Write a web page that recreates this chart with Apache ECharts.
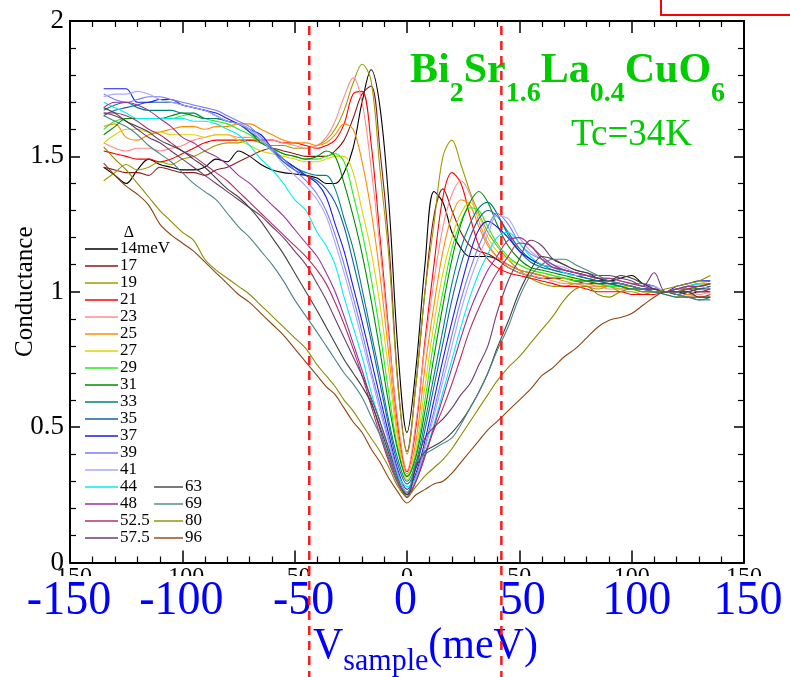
<!DOCTYPE html>
<html><head><meta charset="utf-8">
<script src="https://cdn.jsdelivr.net/npm/echarts/dist/echarts.min.js"></script>
<style>html,body{margin:0;padding:0;background:#fff}#c{width:790px;height:677px}</style>
</head><body><div id="c"></div>
<script>
const FONT = "'Liberation Serif','Times New Roman',serif";
// bias voltage grid (meV)
const vGrid = [-135,-130,-125,-120,-115,-110,-105,-100,-95,-90,-85,-80,-75,-70,-65,-60,-55,-50,-45,-40,
  -36,-32,-28,-24,-20,-16,-12,-8,-4,0,4,8,12,16,20,24,28,32,36,
  40,45,50,55,60,65,70,75,80,85,90,95,100,105,110,115,120,125,130,135];
const gapNames = ['14meV','17','19','21','23','25','27','29','31','33','35','37','39','41','44','48','52.5','57.5','63','69','80','96'];
const g14 = [1.46,1.43,1.40,1.45,1.49,1.47,1.46,1.45,1.45,1.46,1.49,1.48,1.52,1.50,1.47,1.45,1.44,1.435,1.43,1.42, 1.40,1.40,1.44,1.53,1.70,1.82,1.68,1.32,0.78,0.48,0.72,1.10,1.37,1.33,1.22,1.16,1.13,1.13,1.13, 1.12,1.09,1.07,1.06,1.05,1.05,1.05,1.04,1.04,1.04,1.04,1.05,1.06,1.03,1.02,1.00,1.00,0.99,1.00,1.00];
const g17 = [1.46,1.45,1.44,1.44,1.43,1.46,1.45,1.44,1.44,1.43,1.45,1.46,1.48,1.50,1.52,1.53,1.52,1.51,1.50,1.50, 1.50,1.52,1.56,1.64,1.73,1.76,1.52,1.17,0.66,0.41,0.66,1.00,1.28,1.38,1.30,1.22,1.17,1.15,1.14, 1.12,1.10,1.08,1.07,1.06,1.05,1.05,1.04,1.03,1.03,1.02,1.02,1.02,1.01,1.01,1.00,1.00,1.01,1.00,1.01];
const g19 = [1.41,1.44,1.47,1.45,1.46,1.48,1.47,1.49,1.50,1.52,1.54,1.55,1.55,1.56,1.55,1.54,1.54,1.53,1.53,1.54, 1.56,1.60,1.67,1.77,1.84,1.78,1.45,1.12,0.65,0.40,0.66,1.00,1.25,1.50,1.56,1.47,1.37,1.29,1.22, 1.17,1.12,1.08,1.05,1.03,1.02,1.02,1.03,1.02,1.01,1.02,1.00,1.00,0.99,1.00,1.00,1.00,1.02,1.03,1.03];
const g21 = [1.52,1.51,1.50,1.49,1.49,1.48,1.49,1.51,1.53,1.55,1.56,1.56,1.56,1.56,1.56,1.56,1.55,1.55,1.54,1.53, 1.54,1.56,1.62,1.73,1.74,1.55,1.20,0.84,0.50,0.335,0.50,0.82,1.10,1.35,1.44,1.40,1.28,1.17,1.12, 1.09,1.07,1.06,1.05,1.04,1.03,1.02,1.02,1.01,1.00,1.00,1.00,0.99,0.99,0.99,1.00,0.99,0.98,0.98,0.99];
const g23 = [1.55,1.53,1.52,1.53,1.53,1.52,1.53,1.54,1.56,1.57,1.58,1.58,1.57,1.57,1.56,1.56,1.55,1.54,1.53,1.54, 1.57,1.63,1.72,1.79,1.70,1.46,1.16,0.82,0.52,0.34,0.52,0.80,1.04,1.24,1.36,1.41,1.36,1.26,1.18, 1.13,1.09,1.07,1.06,1.05,1.04,1.03,1.03,1.02,1.02,1.01,1.01,1.01,1.00,1.00,1.00,1.00,1.00,0.99,1.00];
const g25 = [1.61,1.62,1.57,1.56,1.58,1.59,1.60,1.61,1.61,1.60,1.61,1.61,1.62,1.62,1.60,1.58,1.56,1.55,1.55,1.54, 1.55,1.58,1.62,1.60,1.48,1.30,1.06,0.76,0.47,0.327,0.45,0.72,0.95,1.15,1.28,1.34,1.32,1.24,1.17, 1.13,1.10,1.08,1.07,1.06,1.05,1.04,1.03,1.03,1.02,1.02,1.01,1.01,1.00,1.00,0.99,0.98,0.99,0.98,0.98];
const g27 = [1.55,1.58,1.60,1.60,1.59,1.59,1.58,1.58,1.58,1.57,1.58,1.58,1.56,1.54,1.52,1.51,1.50,1.49,1.48,1.48, 1.49,1.50,1.50,1.44,1.30,1.15,0.95,0.70,0.45,0.305,0.42,0.65,0.88,1.07,1.20,1.29,1.33,1.28,1.20, 1.15,1.12,1.10,1.08,1.07,1.06,1.05,1.05,1.04,1.03,1.03,1.02,1.02,1.01,1.00,1.00,1.01,1.02,1.03,1.04];
const g29 = [1.60,1.63,1.64,1.64,1.64,1.64,1.64,1.65,1.66,1.64,1.63,1.62,1.60,1.58,1.55,1.53,1.51,1.50,1.49,1.49, 1.50,1.51,1.48,1.36,1.22,1.05,0.85,0.62,0.42,0.32,0.40,0.60,0.82,1.00,1.16,1.26,1.31,1.30,1.24, 1.18,1.13,1.10,1.08,1.07,1.06,1.05,1.04,1.04,1.03,1.02,1.02,1.01,1.00,1.00,1.00,1.00,1.01,1.01,1.02];
const g31 = [1.58,1.61,1.64,1.64,1.64,1.64,1.65,1.66,1.65,1.64,1.64,1.63,1.62,1.59,1.55,1.53,1.51,1.50,1.49,1.50, 1.52,1.50,1.40,1.28,1.14,0.97,0.78,0.58,0.41,0.317,0.39,0.56,0.76,0.95,1.12,1.25,1.33,1.37,1.33, 1.25,1.17,1.12,1.09,1.08,1.07,1.06,1.05,1.04,1.03,1.03,1.02,1.01,1.01,1.00,1.00,1.01,1.02,1.01,1.02];
const g33 = [1.67,1.69,1.70,1.68,1.67,1.67,1.67,1.66,1.66,1.64,1.64,1.63,1.62,1.60,1.56,1.52,1.49,1.46,1.44,1.43, 1.43,1.38,1.27,1.16,1.01,0.85,0.69,0.52,0.38,0.30,0.37,0.52,0.69,0.86,1.03,1.16,1.25,1.31,1.33, 1.29,1.21,1.15,1.11,1.09,1.08,1.07,1.06,1.05,1.04,1.03,1.02,1.01,1.01,1.00,0.99,0.98,0.98,0.97,0.98];
const g35 = [1.65,1.67,1.68,1.69,1.70,1.70,1.70,1.69,1.68,1.67,1.65,1.63,1.62,1.59,1.56,1.52,1.48,1.45,1.43,1.41, 1.38,1.33,1.24,1.11,0.97,0.82,0.66,0.50,0.36,0.29,0.35,0.49,0.65,0.81,0.97,1.10,1.20,1.27,1.30, 1.28,1.22,1.16,1.12,1.10,1.08,1.07,1.06,1.05,1.04,1.03,1.03,1.02,1.01,1.00,1.00,0.99,1.00,1.01,1.02];
const g37 = [1.75,1.75,1.75,1.70,1.70,1.71,1.71,1.69,1.68,1.67,1.66,1.64,1.62,1.60,1.58,1.53,1.49,1.46,1.43,1.40, 1.35,1.25,1.15,1.02,0.89,0.75,0.61,0.47,0.34,0.27,0.33,0.45,0.60,0.75,0.89,1.02,1.14,1.23,1.26, 1.24,1.20,1.15,1.12,1.10,1.09,1.08,1.07,1.06,1.05,1.04,1.03,1.02,1.01,1.01,1.00,1.02,1.03,1.04,1.04];
const g39 = [1.73,1.71,1.70,1.71,1.72,1.72,1.71,1.70,1.69,1.68,1.67,1.65,1.63,1.61,1.57,1.53,1.49,1.45,1.41,1.36, 1.30,1.21,1.10,0.98,0.85,0.71,0.58,0.45,0.33,0.26,0.32,0.43,0.56,0.70,0.84,0.97,1.08,1.17,1.24, 1.29,1.25,1.18,1.14,1.12,1.10,1.08,1.07,1.06,1.05,1.05,1.04,1.03,1.03,1.02,1.00,1.01,1.02,1.03,1.03];
const g41 = [1.72,1.73,1.73,1.74,1.73,1.71,1.70,1.69,1.68,1.67,1.65,1.63,1.62,1.60,1.56,1.52,1.47,1.43,1.39,1.34, 1.28,1.18,1.07,0.95,0.82,0.69,0.56,0.44,0.32,0.25,0.31,0.42,0.54,0.67,0.80,0.93,1.04,1.13,1.21, 1.28,1.27,1.20,1.15,1.12,1.10,1.09,1.07,1.06,1.05,1.05,1.04,1.03,1.02,1.02,1.00,1.00,1.01,1.02,1.01];
const g44 = [1.70,1.68,1.66,1.64,1.64,1.64,1.64,1.64,1.63,1.63,1.62,1.60,1.58,1.54,1.49,1.45,1.40,1.34,1.30,1.22, 1.17,1.10,0.98,0.87,0.76,0.63,0.52,0.41,0.32,0.28,0.31,0.40,0.51,0.63,0.75,0.87,0.98,1.07,1.14, 1.20,1.22,1.18,1.13,1.10,1.09,1.07,1.06,1.06,1.05,1.04,1.03,1.02,1.01,1.00,1.00,1.01,1.02,1.03,1.03];
const g48 = [1.68,1.70,1.70,1.69,1.67,1.64,1.61,1.57,1.55,1.52,1.50,1.47,1.43,1.40,1.36,1.32,1.28,1.23,1.18,1.13, 1.07,1.00,0.91,0.81,0.71,0.60,0.49,0.38,0.30,0.25,0.30,0.39,0.50,0.61,0.72,0.83,0.93,1.01,1.08, 1.13,1.19,1.20,1.17,1.13,1.10,1.08,1.07,1.06,1.05,1.04,1.03,1.02,1.01,1.00,1.00,1.01,1.02,1.02,1.03];
const g52 = [1.66,1.66,1.65,1.63,1.60,1.58,1.55,1.52,1.50,1.47,1.44,1.41,1.37,1.33,1.29,1.25,1.21,1.17,1.13,1.08, 1.03,0.96,0.88,0.79,0.69,0.58,0.47,0.37,0.29,0.24,0.30,0.40,0.49,0.57,0.66,0.76,0.86,0.94,1.01, 1.07,1.13,1.18,1.17,1.12,1.09,1.08,1.07,1.06,1.05,1.05,1.04,1.03,1.02,1.01,1.00,1.01,1.01,1.00,1.00];
const g57 = [1.66,1.65,1.63,1.60,1.57,1.55,1.52,1.49,1.46,1.43,1.40,1.37,1.34,1.31,1.28,1.24,1.20,1.15,1.10,1.03, 0.97,0.90,0.83,0.76,0.69,0.61,0.52,0.42,0.31,0.24,0.36,0.46,0.50,0.53,0.57,0.62,0.66,0.73,0.80, 0.92,1.04,1.12,1.19,1.17,1.12,1.10,1.08,1.07,1.06,1.06,1.05,1.04,1.02,1.07,1.00,1.00,1.00,1.01,1.01];
const g63 = [1.68,1.66,1.63,1.61,1.59,1.56,1.54,1.52,1.49,1.46,1.42,1.38,1.35,1.31,1.26,1.20,1.14,1.07,1.00,0.93, 0.87,0.81,0.75,0.70,0.65,0.59,0.50,0.40,0.30,0.25,0.35,0.41,0.43,0.45,0.48,0.52,0.57,0.63,0.70, 0.79,0.89,1.00,1.08,1.13,1.12,1.10,1.08,1.07,1.05,1.04,1.06,1.05,1.03,1.01,1.00,1.00,1.00,0.98,0.98];
const g69 = [1.65,1.63,1.61,1.58,1.54,1.51,1.48,1.44,1.40,1.37,1.34,1.29,1.24,1.20,1.15,1.10,1.04,0.97,0.91,0.85, 0.80,0.75,0.70,0.66,0.61,0.54,0.47,0.39,0.30,0.256,0.37,0.40,0.42,0.44,0.46,0.51,0.57,0.63,0.70, 0.78,0.87,0.98,1.06,1.10,1.12,1.12,1.10,1.08,1.06,1.04,1.03,1.02,1.01,1.00,1.00,0.99,0.98,0.97,0.97];
const g80 = [1.535,1.49,1.45,1.40,1.35,1.30,1.26,1.22,1.19,1.12,1.08,1.05,1.02,0.99,0.95,0.91,0.87,0.83,0.79,0.73, 0.69,0.65,0.60,0.56,0.51,0.46,0.41,0.35,0.28,0.244,0.28,0.32,0.35,0.38,0.42,0.47,0.52,0.57,0.62, 0.67,0.72,0.76,0.81,0.86,0.91,0.97,1.01,1.02,0.99,0.98,1.00,1.01,1.00,1.00,1.01,1.02,1.03,1.04,1.06];
const g96 = [1.475,1.43,1.39,1.36,1.32,1.25,1.21,1.18,1.15,1.11,1.07,1.03,0.99,0.96,0.92,0.88,0.84,0.79,0.74,0.69, 0.65,0.62,0.57,0.52,0.48,0.42,0.37,0.31,0.26,0.22,0.25,0.27,0.29,0.30,0.33,0.37,0.41,0.45,0.49, 0.52,0.56,0.60,0.64,0.69,0.72,0.76,0.79,0.83,0.87,0.895,0.905,0.92,0.95,0.98,1.00,1.00,1.01,1.02,1.03];
const curveValues = [g14,g17,g19,g21,g23,g25,g27,g29,g31,g33,g35,g37,g39,g41,g44,g48,g52,g57,g63,g69,g80,g96];
const curveColors = ['#000000','#8b1a1a','#9c9c00','#ff0000','#ff8c8c','#ff8c00','#dcd400','#22ee22','#008c00','#008080','#1560a8','#1a1aee','#7878ff','#a8a8ff','#00eeee','#9932a0','#b0306a','#6e3d6e','#404040','#4a8585','#8c8c00','#8b4513'];
const xTickValues = [-150,-100,-50,0,50,100,150];
const xTickLabels = ['-150','-100','-50','0','50','100','150'];
const gapMarkers = [-43.5, 42.0];
const titleParts = ['Bi','2','Sr','1.6','La','0.4','CuO','6'];
const titleSub = [0,1,0,1,0,1,0,1];
const xNameParts = ['V','sample','(meV)'];
const xNameSub = [0,1,0];

const chart = echarts.init(document.getElementById('c'), null, {renderer:'canvas'});
const axisCommon = {
  type:'value', min:-150, max:150, interval:50,
  axisLine:{show:true, onZero:false, lineStyle:{color:'#000', width:2}},
  axisTick:{show:true, inside:true, length:12, lineStyle:{color:'#000', width:1.5}},
  minorTick:{show:true, splitNumber:5, length:6, lineStyle:{color:'#000', width:1.2}},
  splitLine:{show:false}, minorSplitLine:{show:false}
};
const yCommon = {
  type:'value', min:0, max:2, interval:0.5,
  axisLine:{show:true, onZero:false, lineStyle:{color:'#000', width:2}},
  axisTick:{show:true, inside:true, length:10, lineStyle:{color:'#000', width:1.5}},
  minorTick:{show:true, splitNumber:5, length:6, lineStyle:{color:'#000', width:1.2}},
  splitLine:{show:false}, minorSplitLine:{show:false}
};
const legendCommon = {
  orient:'vertical', padding:0, icon:'rect', itemHeight:1.4, itemGap:0, selectedMode:false,
  textStyle:{color:'#000', fontFamily:FONT, fontSize:17, lineHeight:17, padding:[0,0,0,-3]}
};
const option = {
  animation:false,
  backgroundColor:'#fff',
  textStyle:{fontFamily:FONT},
  grid:{left:70, right:46, top:21, bottom:114.5, containLabel:false, outerBoundsMode:'none'},
  xAxis:[
    Object.assign({}, axisCommon, {position:'bottom',
      axisLabel:{show:true, margin:2, color:'#000', fontFamily:FONT, fontSize:24}}),
    Object.assign({}, axisCommon, {position:'top', axisLabel:{show:false}})
  ],
  yAxis:[
    Object.assign({}, yCommon, {position:'left',
      name:'Conductance', nameLocation:'middle', nameGap:32, nameMoveOverlap:false,
      nameTextStyle:{color:'#000', fontFamily:FONT, fontSize:25},
      axisLabel:{show:true, margin:6, color:'#000', fontFamily:FONT, fontSize:27}}),
    Object.assign({}, yCommon, {position:'right', axisLabel:{show:false}})
  ],
  legend:[
    Object.assign({}, legendCommon, {data:gapNames.slice(0,18), left:85, top:240.5, itemWidth:33}),
    Object.assign({}, legendCommon, {data:gapNames.slice(18), left:154, top:240.5+14*17, itemWidth:29})
  ],
  series: gapNames.map((n,i)=>({
    name:n, type:'line', xAxisIndex:0, yAxisIndex:0,
    data: vGrid.map((v,k)=>[v, curveValues[i][k]]),
    symbol:'none', showSymbol:false, smooth:0.35, silent:true,
    lineStyle:{width:1.1, color:curveColors[i]}, itemStyle:{color:curveColors[i]}
  }))
};
chart.setOption(option);

const px = v => chart.convertToPixel({xAxisIndex:0}, v);
const ctx = document.createElement('canvas').getContext('2d');
function measure(t, font){ ctx.font = font; return ctx.measureText(t).width; }

const graphics = [];
// white band behind the large tick labels
graphics.push({type:'rect', shape:{x:0, y:576, width:790, height:52}, style:{fill:'#fff'}, z:50, silent:true});
const blueShift = [-1,-1,9,-1.5,3.5,5,4];
xTickValues.forEach((v,i)=>{
  graphics.push({type:'text', x:px(v)+blueShift[i], y:601, scaleY:1.07, z:51, silent:true,
    style:{text:xTickLabels[i], fontFamily:FONT, fontSize:46, fill:'#0000ff', align:'center', verticalAlign:'middle'}});
});
// x axis name with subscript
let xx = 313;
xNameParts.forEach((t,i)=>{
  const fs = xNameSub[i] ? 30 : 42;
  const base = xNameSub[i] ? 672 : 661.7;
  graphics.push({type:'text', x:xx, y:base - 0.3375*fs*1.07, scaleY:1.07, z:51, silent:true,
    style:{text:t, fontFamily:FONT, fontSize:fs, fill:'#0000ff', align:'left', verticalAlign:'middle'}});
  xx += measure(t, fs+'px '+FONT);
});
// compound title
let tx = 410;
titleParts.forEach((t,i)=>{
  const fs = titleSub[i] ? 28 : 42;
  const base = titleSub[i] ? 103 : 85;
  graphics.push({type:'text', x:tx, y:base - 0.3375*fs, z:51, silent:true,
    style:{text:t, fontFamily:FONT, fontWeight:'bold', fontSize:fs, fill:'#00cc00', align:'left', verticalAlign:'middle'}});
  tx += measure(t, 'bold '+fs+'px '+FONT);
});
graphics.push({type:'text', x:631.5, y:148 - 0.3375*37, z:51, silent:true,
  style:{text:'Tc=34K', fontFamily:FONT, fontSize:37, fill:'#00cc00', align:'center', verticalAlign:'middle'}});
graphics.push({type:'text', x:129, y:233, z:51, silent:true,
  style:{text:'\u0394', fontFamily:FONT, fontSize:16, fill:'#000', align:'center', verticalAlign:'middle'}});
// red frame fragment at top right
graphics.push({type:'rect', shape:{x:661, y:-10, width:150, height:25}, style:{fill:'none', stroke:'#ff0000', lineWidth:2}, z:52, silent:true});
// dashed gap markers
gapMarkers.forEach(v=>{
  const x = px(v);
  graphics.push({type:'line', shape:{x1:x, y1:26, x2:x, y2:677}, z:60, silent:true,
    style:{stroke:'#ff1a1a', lineWidth:2.5, lineDash:[9,6]}});
});
chart.setOption({graphic:graphics});
</script>
</body></html>
